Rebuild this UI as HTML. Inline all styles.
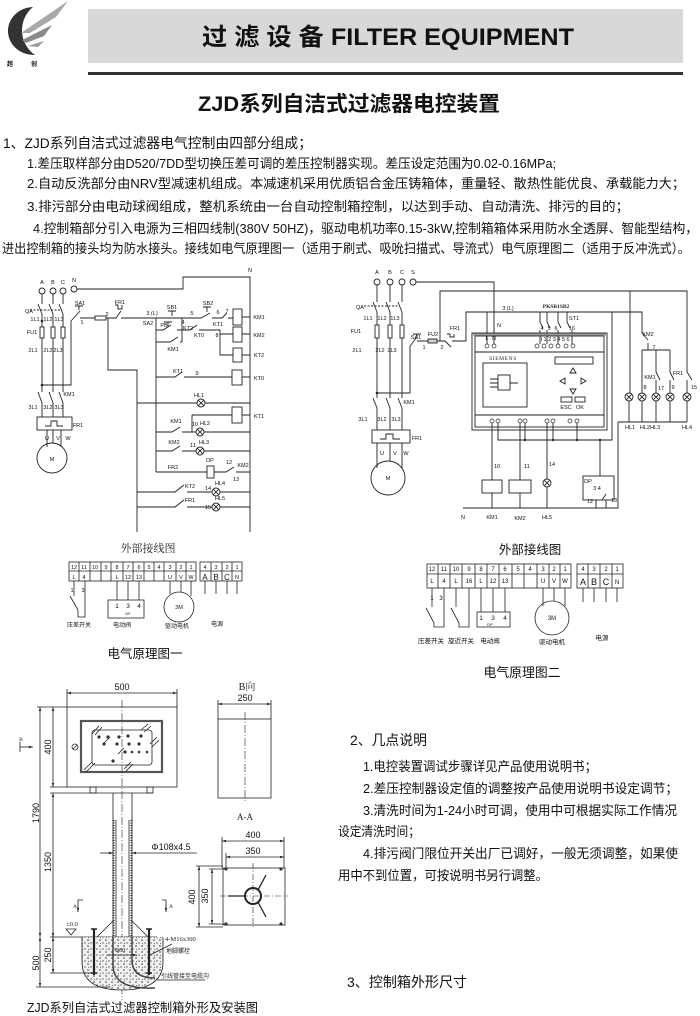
<!DOCTYPE html>
<html><head><meta charset="utf-8">
<style>
html,body{margin:0;padding:0;background:#fff;}
svg{display:block;}
text{font-family:"Liberation Sans","Noto Sans CJK SC",sans-serif;fill:#111;}
.t{font-family:"Liberation Serif","Noto Serif CJK SC",serif;font-size:5.5px;fill:#222;}
.u{font-family:"Liberation Serif","Noto Serif CJK SC",serif;font-size:7px;fill:#222;}
.d{font-family:"Liberation Sans",sans-serif;font-size:9px;fill:#222;}
.c{font-family:"Liberation Sans","Noto Sans CJK SC",sans-serif;font-size:6px;fill:#222;}
</style></head><body>
<svg width="700" height="1016" viewBox="0 0 700 1016" xmlns="http://www.w3.org/2000/svg">
<defs>
<marker id="ar" viewBox="0 0 10 10" refX="10" refY="5" markerWidth="5" markerHeight="5" orient="auto-start-reverse"><path d="M0,2 L10,5 L0,8z" fill="#222"/></marker>
<symbol id="lamp" viewBox="-5 -5 10 10" overflow="visible"><circle r="4" fill="#fff" stroke="#222" stroke-width="0.9"/><path d="M-2.8,-2.8 L2.8,2.8 M-2.8,2.8 L2.8,-2.8" stroke="#222" stroke-width="0.9"/></symbol>
<pattern id="conc" width="6" height="6" patternUnits="userSpaceOnUse"><rect width="6" height="6" fill="#f0f0f0"/><circle cx="1" cy="1" r="0.7" fill="#555"/><circle cx="4" cy="4" r="0.9" fill="#666"/><circle cx="4.5" cy="1.5" r="0.5" fill="#444"/></pattern>
</defs>
<rect width="700" height="1016" fill="#fff"/>

<!-- ===== Header ===== -->
<path d="M33,7 A26,24 0 1,0 35,55 A30,30 0 0,1 33,7 Z" fill="#333"/>
<path d="M21,33 L68,1 L56,17 L30,33 Z" fill="#a8a8a8"/>
<path d="M22,40 L52,25 L44,36 L26,43 Z" fill="#8a8a8a"/>
<path d="M28,46 L44,41 L38,47 Z" fill="#999"/>
<text x="7" y="66" font-size="6" font-weight="bold">超</text>
<text x="31" y="66" font-size="6" font-weight="bold">创</text>
<rect x="88" y="9" width="595" height="54" fill="#d8d8d8"/>
<text x="388" y="45" font-size="24" font-weight="bold" text-anchor="middle" textLength="372" lengthAdjust="spacingAndGlyphs">过 滤 设 备 FILTER EQUIPMENT</text>
<rect x="88" y="72" width="595" height="3" fill="#333"/>

<text x="349" y="111" font-size="21" font-weight="bold" text-anchor="middle" textLength="302" lengthAdjust="spacingAndGlyphs">ZJD系列自洁式过滤器电控装置</text>

<!-- ===== Section 1 ===== -->
<text x="3" y="148" font-size="14" textLength="309" lengthAdjust="spacingAndGlyphs">1、ZJD系列自洁式过滤器电气控制由四部分组成；</text>
<text x="27" y="168" font-size="13" textLength="529" lengthAdjust="spacingAndGlyphs">1.差压取样部分由D520/7DD型切换压差可调的差压控制器实现。差压设定范围为0.02-0.16MPa;</text>
<text x="27" y="188" font-size="13" textLength="658" lengthAdjust="spacingAndGlyphs">2.自动反洗部分由NRV型减速机组成。本减速机采用优质铝合金压铸箱体，重量轻、散热性能优良、承载能力大；</text>
<text x="27" y="211" font-size="13" textLength="602" lengthAdjust="spacingAndGlyphs">3.排污部分由电动球阀组成，整机系统由一台自动控制箱控制，以达到手动、自动清洗、排污的目的；</text>
<text x="33" y="233" font-size="13" textLength="665" lengthAdjust="spacingAndGlyphs">4.控制箱部分引入电源为三相四线制(380V    50HZ)，驱动电机功率0.15-3kW,控制箱箱体采用防水全透屏、智能型结构，</text>
<text x="2" y="253" font-size="13" textLength="688" lengthAdjust="spacingAndGlyphs">进出控制箱的接头均为防水接头。接线如电气原理图一（适用于刷式、吸吮扫描式、导流式）电气原理图二（适用于反冲洗式）。</text>

<!-- ===== Left circuit ===== -->
<g stroke="#222" stroke-width="0.9" fill="none">
<circle cx="42" cy="291" r="3"/><circle cx="53" cy="291" r="3"/><circle cx="63" cy="291" r="3"/><circle cx="74" cy="289" r="3"/>
<path d="M77,289 H183 V277 H250 V532"/>
<path d="M42,294 V304 M53,294 V304 M63,294 V304"/>
<path d="M38,304 L42,314 M49,304 L53,314 M59,304 L63,314"/>
<path d="M30,310 H62" stroke-dasharray="2,1.5"/>
<path d="M42,314 V392 M53,314 V392 M63,314 V392"/>
<rect x="40" y="327" width="4" height="11" fill="#fff"/><rect x="51" y="327" width="4" height="11" fill="#fff"/><rect x="61" y="327" width="4" height="11" fill="#fff"/>
<path d="M42,385 H71 V321"/>
<path d="M38,392 L42,403 M49,392 L53,403 M59,392 L63,403"/>
<path d="M42,403 V417 M53,403 V417 M63,403 V417"/>
<rect x="37" y="417" width="35" height="13"/>
<path d="M45,426 H51 V421 H57 V426 H63"/>
<path d="M47,430 V447 M53,430 V443 M61,430 V447"/>
<circle cx="52" cy="458" r="15"/>
<path d="M71,321 L80,311 M75,306 H83 M79,306 V310"/>
<path d="M80,318 H95 M106,318 H113"/>
<rect x="95" y="316" width="11" height="4"/>
<path d="M113,318 H116 L121,311 M115,305 H118 V309 H122 V305 M121,318 H165"/>
<path d="M165,318 H178 M168,311 H176 M172,311 V316"/>
<path d="M178,318 H201 L210,313 M203,307 H211 M207,307 V312 M212,318 H222 L227,313 M228,318 H233"/>
<path d="M108,318 V370 H137 V532"/>
<path d="M156,318 V472"/>
<path d="M156,330 H163 L171,325 M164,322 H172 M168,322 V326 M177,330 H190 L197,325 M199,330 H220 V355 H233 M220,334 H233"/>
<path d="M182,318 V342 M156,342 H170 L178,337 M180,342 H182"/>
<rect x="233" y="309" width="9" height="16" fill="#fff"/>
<rect x="233" y="327" width="9" height="15" fill="#fff"/>
<rect x="233" y="348" width="9" height="14" fill="#fff"/>
<rect x="232" y="370" width="10" height="15" fill="#fff"/>
<rect x="232" y="407" width="10" height="16" fill="#fff"/>
<path d="M242,317 H250 M242,334 H250 M242,355 H250 M242,377 H250 M242,415 H250"/>
<path d="M156,377 H175 L182,372 M184,377 H232"/>
<path d="M137,403 H250"/>
<path d="M192,415 H232 M192,415 V432"/>
<path d="M156,432 H172 L180,427 M182,432 H250"/>
<path d="M156,451 H172 L180,446 M182,451 H250"/>
<path d="M156,472 H207 M214,472 H226 L234,467 M236,472 H250"/>
<rect x="207" y="466" width="7" height="12" fill="#fff"/>
<path d="M137,492 H175 L184,485 M187,492 H250"/>
<path d="M137,507 H175 L184,500 M187,507 H250"/>
</g>
<circle cx="42" cy="385" r="1.3" fill="#222"/><circle cx="42" cy="321" r="1.3" fill="#222"/>
<use href="#lamp" x="201" y="403" width="10" height="10" transform="translate(-5,-5)"/>
<use href="#lamp" x="200" y="432" width="10" height="10" transform="translate(-5,-5)"/>
<use href="#lamp" x="200" y="451" width="10" height="10" transform="translate(-5,-5)"/>
<use href="#lamp" x="216" y="492" width="10" height="10" transform="translate(-5,-5)"/>
<use href="#lamp" x="216" y="507" width="10" height="10" transform="translate(-5,-5)"/>
<g class="t" text-anchor="middle">
<text x="42" y="284">A</text><text x="53" y="284">B</text><text x="63" y="284">C</text><text x="74" y="282">N</text>
<text x="250" y="272">N</text>
<text x="29" y="313">QA</text>
<text x="35" y="321">1L1</text><text x="48" y="321">1L2</text><text x="59" y="321">1L3</text>
<text x="32" y="334">FU1</text>
<text x="33" y="352">2L1</text><text x="48" y="352">2L2</text><text x="58" y="352">2L3</text>
<text x="69" y="396">KM1</text>
<text x="33" y="409">3L1</text><text x="48" y="409">3L2</text><text x="59" y="409">3L3</text>
<text x="78" y="427">FR1</text>
<text x="47" y="440">U</text><text x="58" y="440">V</text><text x="68" y="440">W</text>
<text x="52" y="461">M</text>
<text x="80" y="305">SA1</text><text x="82" y="324">1</text><text x="107" y="316">2</text>
<text x="120" y="304">FR1</text>
<text x="152" y="315">3 (L)</text>
<text x="172" y="309">SB1</text><text x="192" y="315">5</text>
<text x="208" y="305">SB2</text><text x="218" y="314">6</text><text x="227" y="313">7</text>
<text x="218" y="326">KT1</text><text x="217" y="337">8</text>
<text x="148" y="325">SA2</text><text x="164" y="327">PB</text><text x="183" y="324">4</text>
<text x="188" y="330">KT2</text><text x="199" y="337">KT0</text>
<text x="173" y="351">KM1</text>
<text x="178" y="373">KT1</text><text x="197" y="375">9</text>
<text x="259" y="319">KM1</text><text x="259" y="337">KM2</text><text x="259" y="357">KT2</text><text x="259" y="380">KT0</text><text x="259" y="418">KT1</text>
<text x="199" y="397">HL1</text>
<text x="176" y="423">KM1</text><text x="195" y="426">10</text><text x="205" y="425">HL2</text>
<text x="174" y="444">KM2</text><text x="193" y="447">11</text><text x="204" y="444">HL3</text>
<text x="173" y="469">FR2</text><text x="210" y="462">DP</text><text x="229" y="464">12</text><text x="243" y="467">KM2</text><text x="236" y="481">13</text>
<text x="190" y="488">KT2</text><text x="208" y="490">14</text><text x="220" y="485">HL4</text>
<text x="190" y="502">FR1</text><text x="208" y="509">15</text><text x="220" y="500">HL5</text>
</g>

<!-- ===== Right circuit ===== -->
<g stroke="#222" stroke-width="0.9" fill="none">
<circle cx="377" cy="282" r="3"/><circle cx="390" cy="282" r="3"/><circle cx="402" cy="282" r="3"/><circle cx="413" cy="282" r="3"/>
<path d="M416,282 H494 V344"/>
<path d="M377,285 V302 M390,285 V302 M402,285 V302"/>
<path d="M373,302 L377,312 M386,302 L390,312 M398,302 L402,312"/>
<path d="M364,306 H399" stroke-dasharray="2,1.5"/>
<path d="M377,312 V398 M390,312 V398 M402,312 V398"/>
<rect x="375" y="325" width="4" height="13" fill="#fff"/><rect x="388" y="325" width="4" height="13" fill="#fff"/><rect x="400" y="325" width="4" height="13" fill="#fff"/>
<path d="M377,393 H410 V346 L417,337 M413,334 H421 M417,334 V338"/>
<!-- KM1 main contacts -->
<path d="M373,398 L377,408 M386,398 L390,408 M398,398 L402,408"/>
<path d="M377,408 V430 M390,408 V430 M402,408 V430"/>
<rect x="372" y="430" width="38" height="13"/>
<path d="M380,439 H386 V434 H393 V439 H400"/>
<path d="M377,443 V468 M390,443 V461 M402,443 V468"/>
<circle cx="388" cy="478" r="17"/>
<path d="M417,341 H428 M437,341 H445"/>
<rect x="428" y="339" width="9" height="4" fill="#d0d0d0"/>
<path d="M445,341 L451,347 M447,334 H450 V337 H454 V334 M452,341 H466 V312 H642 V333 L648,340 M648,343 V350"/>
<path d="M440,341 V291 H687 V372 L692,380 M687,380 V393"/>
<path d="M630,291 V393"/>
<path d="M642,350 H670 M642,350 V393 M656,350 V372 L660,380 M656,380 V393 M670,350 V372 L674,380 M670,380 V393"/>
<path d="M629,401 V422 M642,401 V422 M656,401 V422 M670,401 V422 M687,401 V422 M618,422 H687 M618,422 V508 H463"/>
<path d="M487,312 V344"/>
<path d="M540,312 V322 L543,328 M540,330 V344 M547,312 V322 L550,328 M547,330 V344 M558,312 V322 L561,328 M558,330 V344 M567,312 V322 L570,328 M572,330 V344"/>
<rect x="472" y="333" width="135" height="97"/>
<rect x="475" y="336" width="129" height="91"/>
<path d="M472,334.5 H607" stroke="#999" stroke-width="2"/>
<path d="M475,352 H604 M475,415 H604"/>
<rect x="555" y="357" width="38" height="7"/>
<rect x="483" y="363" width="44" height="44"/>
<rect x="498" y="375" width="12" height="15"/>
<path d="M490,379 H498 M490,383 H498 M490,387 H498 M510,383 H518"/>
<path d="M573,368 L570,373 H576 Z M573,394 L570,389 H576 Z M560,381 L565,378 V384 Z M586,381 L581,378 V384 Z"/>
<rect x="561" y="397" width="11" height="5"/><rect x="575" y="397" width="10" height="5"/>
<path d="M498,423 V440 H612 V312 M525,423 V440 M553,423 V440 M577,423 V440 M600,440 V476"/>
<path d="M492,423 V480 M520,423 V480 M547,423 V479"/>
<rect x="482" y="480" width="20" height="13" fill="#fff"/>
<rect x="509" y="480" width="22" height="13" fill="#fff"/>
<path d="M492,493 V508 M520,493 V508 M547,487 V508"/>
<rect x="583" y="476" width="31" height="24"/>
<path d="M596,500 V508 M602,500 L606,494 M606,500 V508 H618"/>
</g>
<g fill="#fff" stroke="#222" stroke-width="0.7">
<circle cx="487" cy="346" r="2"/><circle cx="494" cy="346" r="2"/>
<circle cx="537" cy="346" r="2"/><circle cx="544" cy="346" r="2"/><circle cx="551" cy="346" r="2"/><circle cx="558" cy="346" r="2"/><circle cx="566" cy="346" r="2"/><circle cx="573" cy="346" r="2"/>
<circle cx="492" cy="421" r="2"/><circle cx="498" cy="421" r="2"/><circle cx="520" cy="421" r="2"/><circle cx="525" cy="421" r="2"/><circle cx="547" cy="421" r="2"/><circle cx="553" cy="421" r="2"/><circle cx="570" cy="421" r="2"/><circle cx="577" cy="421" r="2"/>
</g>
<circle cx="377" cy="393" r="1.3" fill="#222"/>
<circle cx="525" cy="440" r="1.2" fill="#222"/><circle cx="553" cy="440" r="1.2" fill="#222"/><circle cx="577" cy="440" r="1.2" fill="#222"/><circle cx="600" cy="440" r="1.2" fill="#222"/>
<use href="#lamp" x="629" y="397" width="10" height="10" transform="translate(-5,-5)"/>
<use href="#lamp" x="642" y="397" width="10" height="10" transform="translate(-5,-5)"/>
<use href="#lamp" x="656" y="397" width="10" height="10" transform="translate(-5,-5)"/>
<use href="#lamp" x="670" y="397" width="10" height="10" transform="translate(-5,-5)"/>
<use href="#lamp" x="687" y="397" width="10" height="10" transform="translate(-5,-5)"/>
<use href="#lamp" x="547" y="483" width="10" height="10" transform="translate(-5,-5)"/>
<g class="t" text-anchor="middle">
<text x="377" y="274">A</text><text x="390" y="274">B</text><text x="402" y="274">C</text><text x="413" y="274">S</text>
<text x="360" y="309">QA</text>
<text x="368" y="320">1L1</text><text x="382" y="320">1L2</text><text x="395" y="320">1L3</text>
<text x="356" y="333">FU1</text>
<text x="357" y="352">2L1</text><text x="380" y="352">2L2</text><text x="392" y="352">2L3</text>
<text x="409" y="404">KM1</text>
<text x="363" y="421">3L1</text><text x="382" y="421">3L2</text><text x="396" y="421">3L3</text>
<text x="416" y="339">SA1</text>
<text x="417" y="440">FR1</text>
<text x="382" y="455">U</text><text x="395" y="455">V</text><text x="406" y="455">W</text>
<text x="388" y="480">M</text>
<text x="433" y="336">FU2</text><text x="424" y="349">1</text><text x="442" y="349">2</text>
<text x="455" y="330">FR1</text>
<text x="508" y="310">3 (L)</text>
<text x="499" y="327">N</text>
<text x="542" y="330">4</text><text x="549" y="330">5</text><text x="556" y="330">6</text><text x="572" y="330">16</text>
<text x="574" y="320">ST1</text>
<text x="487" y="340">L</text><text x="494" y="340">N</text>
<text x="555" y="341">I 1 2 3 4 5 6</text>
<text x="566" y="409">ESC</text><text x="580" y="409">OK</text>
<text x="497" y="468">10</text><text x="527" y="468">11</text><text x="552" y="466">14</text>
<text x="588" y="483">DP</text><text x="597" y="490">3  4</text>
<text x="590" y="503">12</text><text x="614" y="502">13</text>
<text x="463" y="519">N</text><text x="492" y="519">KM1</text><text x="520" y="520">KM2</text><text x="547" y="519">HL5</text>
<text x="648" y="336">KM2</text><text x="654" y="349">7</text><text x="650" y="379">KM1</text><text x="678" y="375">FR1</text>
<text x="645" y="389">8</text><text x="661" y="390">17</text><text x="673" y="389">9</text><text x="694" y="389">15</text>
<text x="630" y="429">HL1</text><text x="650" y="429">HL2HL3</text><text x="687" y="429">HL4</text>
</g>
<text x="556" y="308" class="t" font-weight="bold" text-anchor="middle" font-size="6.5">PKSB1SB2</text>
<text x="503" y="360" class="t" text-anchor="middle" font-size="6.5" letter-spacing="0.6">SIEMENS</text>

<!-- ===== External wiring 1 ===== -->
<text x="148" y="552" class="u" text-anchor="middle" style="font-size:11px">外部接线图</text>
<g stroke="#222" stroke-width="0.8" fill="none">
<rect x="69" y="562" width="127" height="19"/><path d="M69,571 H196"/>
<path d="M79,562 V581 M90,562 V581 M101,562 V581 M111,562 V581 M123,562 V581 M133,562 V581 M144,562 V581 M154,562 V581 M164,562 V581 M176,562 V581 M186,562 V581"/>
<rect x="200" y="562" width="42" height="19"/><path d="M200,571 H242 M211,562 V581 M222,562 V581 M232,562 V581"/>
<path d="M74,581 V596 M70,596 L78,610 M78,610 V617 H85 V581"/>
<path d="M117,581 V600 M128,581 V600 M139,581 V600"/>
<rect x="108" y="600" width="36" height="18"/>
<path d="M170,581 V594 M181,581 V592 M191,581 V596"/>
<circle cx="179" cy="607" r="15"/>
<path d="M205,581 V594 M216,581 V594 M227,581 V594 M237,581 V594"/>
</g>
<g class="t" text-anchor="middle">
<text x="74" y="569">12</text><text x="84" y="569">11</text><text x="95" y="569">10</text><text x="106" y="569">9</text><text x="117" y="569">8</text><text x="128" y="569">7</text><text x="139" y="569">6</text><text x="149" y="569">5</text><text x="159" y="569">4</text><text x="170" y="569">3</text><text x="181" y="569">2</text><text x="191" y="569">1</text>
<text x="74" y="579">L</text><text x="84" y="579">4</text><text x="117" y="579">L</text><text x="128" y="579">12</text><text x="139" y="579">13</text><text x="170" y="579">U</text><text x="181" y="579">V</text><text x="191" y="579">W</text>
<text x="205" y="569">4</text><text x="216" y="569">3</text><text x="227" y="569">2</text><text x="237" y="569">1</text>
<text x="237" y="579">N</text>
<text x="72" y="592">1</text><text x="83" y="592">3</text>
<text x="117" y="608" font-size="6.5">1</text><text x="128" y="608" font-size="6.5">3</text><text x="139" y="608" font-size="6.5">4</text>
<text x="128" y="615" font-size="4">DF</text>
<text x="179" y="609">3M</text>
</g>
<g class="u" text-anchor="middle" style="font-size:8px"><text x="205" y="580">A</text><text x="216" y="580">B</text><text x="227" y="580">C</text></g>
<g class="c" text-anchor="middle">
<text x="79" y="627">压差开关</text><text x="122" y="627">电动阀</text><text x="177" y="628">驱动电机</text><text x="217" y="626">电源</text>
</g>
<text x="145" y="658" font-size="12.5" text-anchor="middle" textLength="75" lengthAdjust="spacingAndGlyphs">电气原理图一</text>

<!-- ===== External wiring 2 ===== -->
<text x="530" y="554" font-size="12.5" text-anchor="middle">外部接线图</text>
<g stroke="#222" stroke-width="0.8" fill="none">
<rect x="427" y="564" width="144" height="24"/><path d="M427,574 H571"/>
<path d="M438,564 V588 M450,564 V588 M462,564 V588 M475,564 V588 M487,564 V588 M499,564 V588 M512,564 V588 M524,564 V588 M537,564 V588 M549,564 V588 M560,564 V588"/>
<rect x="577" y="564" width="46" height="24"/><path d="M577,574 H623 M588,564 V588 M600,564 V588 M612,564 V588"/>
<path d="M432,588 V607 M426,608 L434,623 M434,623 V627 H444 V588"/>
<path d="M456,588 V607 M451,608 L459,623 M459,623 V627 H469 V588"/>
<path d="M481,588 V612 M493,588 V612 M505,588 V612"/>
<rect x="477" y="612" width="33" height="15"/>
<path d="M543,588 V606 M554,588 V601 M565,588 V606"/>
<circle cx="552" cy="618" r="17"/>
<path d="M583,588 V602 M594,588 V602 M606,588 V602 M617,588 V602"/>
</g>
<g class="t" text-anchor="middle" style="font-size:6px">
<text x="432" y="571">12</text><text x="444" y="571">11</text><text x="456" y="571">10</text><text x="469" y="571">9</text><text x="481" y="571">8</text><text x="493" y="571">7</text><text x="505" y="571">6</text><text x="518" y="571">5</text><text x="530" y="571">4</text><text x="543" y="571">3</text><text x="554" y="571">2</text><text x="565" y="571">1</text>
<text x="432" y="583">L</text><text x="444" y="583">4</text><text x="456" y="583">L</text><text x="469" y="583">16</text><text x="481" y="583">L</text><text x="493" y="583">12</text><text x="505" y="583">13</text><text x="543" y="583">U</text><text x="554" y="583">V</text><text x="565" y="583">W</text>
<text x="583" y="571">4</text><text x="594" y="571">3</text><text x="606" y="571">2</text><text x="617" y="571">1</text>
<text x="617" y="584">N</text>
<text x="432" y="600">1</text><text x="441" y="600">3</text>
<text x="481" y="620" style="font-size:6.5px">1</text><text x="493" y="620" style="font-size:6.5px">3</text><text x="505" y="620" style="font-size:6.5px">4</text>
<text x="490" y="626" style="font-size:4px">DP</text>
<text x="552" y="620">3M</text>
</g>
<g class="u" text-anchor="middle" style="font-size:9px"><text x="583" y="585">A</text><text x="594" y="585">B</text><text x="606" y="585">C</text></g>
<g class="c" text-anchor="middle" style="font-size:6.5px">
<text x="431" y="643">压差开关</text><text x="461" y="643">旋近开关</text><text x="490" y="643">电动阀</text><text x="552" y="644">驱动电机</text><text x="602" y="640">电源</text>
</g>
<text x="522" y="677" font-size="13" text-anchor="middle" textLength="77" lengthAdjust="spacingAndGlyphs">电气原理图二</text>

<!-- ===== Bottom-left drawing ===== -->
<g stroke="#222" stroke-width="0.8" fill="none">
<line x1="67" y1="693" x2="177" y2="693" marker-start="url(#ar)" marker-end="url(#ar)"/>
<path d="M67,689 V707 M177,689 V707"/>
<rect x="67" y="707" width="110" height="80"/>
<path d="M37,707 H67 M50,787 H67 M50,793 H153"/>
<rect x="81" y="721" width="81" height="51" stroke="#555" stroke-width="2.2"/>
<rect x="92" y="730" width="60" height="35" rx="3"/>
<path d="M92,734 L99,726 M95,735 L102,727 M141,730 L148,724 M144,732 L151,726 M150,744 L157,737 M152,747 L159,740 M84,770 L92,762 M86,772 L95,763 M124,769 L131,762 M126,771 L133,764 M104,743 L110,737 M118,754 L124,748"/>
<circle cx="75" cy="747" r="3"/><path d="M73,749 L77,745"/>
<rect x="90" y="787" width="6" height="6"/><rect x="147" y="787" width="6" height="6"/>
<path d="M113,793 V937 M132,793 V937 M116,820 V937 M129,820 V937"/>
<path d="M113.5,820 V937 M131.5,820 V937" stroke-dasharray="1,1.5" stroke-width="2"/>
<path d="M122,700 V1000" stroke-dasharray="8,2,1,2" stroke-width="0.6"/>
<line x1="53" y1="707" x2="53" y2="787" marker-start="url(#ar)" marker-end="url(#ar)"/>
<line x1="40" y1="707" x2="40" y2="937" marker-start="url(#ar)" marker-end="url(#ar)"/>
<line x1="53" y1="793" x2="53" y2="937" marker-start="url(#ar)" marker-end="url(#ar)"/>
<path d="M20,742 V752"/>
<line x1="20" y1="747" x2="33" y2="747" marker-end="url(#ar)"/>
<line x1="218" y1="704" x2="271" y2="704" marker-start="url(#ar)" marker-end="url(#ar)"/>
<path d="M218,700 V719 M271,700 V719"/>
<rect x="218" y="719" width="53" height="79"/>
<path d="M245,712 V802" stroke-dasharray="8,2,1,2" stroke-width="0.6"/>
<line x1="222" y1="841" x2="284" y2="841" marker-start="url(#ar)" marker-end="url(#ar)"/>
<line x1="226" y1="857" x2="284" y2="857" marker-start="url(#ar)" marker-end="url(#ar)"/>
<path d="M222,837 V868 M284,837 V868 M226,853 V869"/>
<rect x="223" y="868" width="62" height="57"/>
<path d="M220,896 H288 M253,863 V929" stroke-dasharray="6,2,1,2" stroke-width="0.6"/>
<circle cx="253" cy="896" r="8" stroke-width="2"/>
<path d="M258,890 L266,875 M258,902 L266,917 M245,896 L228,896" stroke-width="1.3"/>
<line x1="199" y1="866" x2="199" y2="927" marker-start="url(#ar)" marker-end="url(#ar)"/>
<line x1="212" y1="869" x2="212" y2="924" marker-start="url(#ar)" marker-end="url(#ar)"/>
<path d="M196,866 H223 M196,927 H223 M209,869 H226 M209,924 H226"/>
<line x1="100" y1="853" x2="113" y2="853" marker-end="url(#ar)"/>
<line x1="197" y1="853" x2="132" y2="853" marker-end="url(#ar)"/>
<path d="M83,900 H78 V912 M162,900 H166 V912"/>
<line x1="78" y1="905" x2="78" y2="912" marker-end="url(#ar)"/>
<line x1="166" y1="905" x2="166" y2="912" marker-end="url(#ar)"/>
<path d="M66,929 H76 L71,935 Z M50,937 H157"/>
<path d="M82,937 V962 Q82,990 122,990 Q163,990 163,962 V937" fill="url(#conc)"/>
<path d="M97,937 L113,921 M132,921 L148,937"/>
<path d="M113,937 V965 Q113,990 155,988 M132,937 V960 Q132,978 155,978" stroke="#444" stroke-width="1.5" fill="none"/>
<path d="M94,929 V975 M149,929 V975" stroke-width="2.2"/>
<path d="M91,929 H97 M146,929 H152 M91,973 H97 M146,973 H152" stroke-width="1.5"/>
<line x1="107" y1="955" x2="137" y2="955" marker-end="url(#ar)"/>
<path d="M150,955 L172,944 M157,980 H205"/>
<path d="M36,987 H110 M50,973 H94"/>
<line x1="40" y1="937" x2="40" y2="987" marker-start="url(#ar)" marker-end="url(#ar)"/>
<line x1="53" y1="937" x2="53" y2="973" marker-start="url(#ar)" marker-end="url(#ar)"/>
</g>
<g fill="#333">
<circle cx="99" cy="737" r="1.6"/><circle cx="108" cy="737" r="1.6"/><circle cx="119" cy="737" r="1.6"/><circle cx="128" cy="736" r="1.6"/><circle cx="141" cy="736" r="1.6"/>
<circle cx="104" cy="744" r="1.6"/><circle cx="117" cy="744" r="1.6"/><circle cx="129" cy="744" r="1.6"/><circle cx="139" cy="744" r="1.6"/>
<circle cx="125" cy="752" r="1.6"/><circle cx="132" cy="752" r="1.3"/><circle cx="139" cy="752" r="1.3"/><circle cx="147" cy="752" r="1.3"/><circle cx="113" cy="761" r="1.6"/>
<circle cx="226" cy="869" r="1.6"/><circle cx="281" cy="869" r="1.6"/><circle cx="226" cy="924" r="1.6"/><circle cx="281" cy="924" r="1.6"/>
</g>
<g class="d" text-anchor="middle">
<text x="122" y="690">500</text>
<text transform="translate(51,747) rotate(-90)">400</text>
<text transform="translate(39,813) rotate(-90)">1790</text>
<text transform="translate(51,862) rotate(-90)">1350</text>
<text transform="translate(39,963) rotate(-90)">500</text>
<text transform="translate(51,955) rotate(-90)">250</text>
<text x="245" y="701">250</text>
<text x="253" y="838">400</text>
<text x="253" y="854">350</text>
<text transform="translate(195,897) rotate(-90)">400</text>
<text transform="translate(208,896) rotate(-90)">350</text>
<text x="171" y="850">Φ108x4.5</text>
</g>
<text x="21" y="741" class="t" text-anchor="middle">B</text>
<text x="247" y="690" class="u" text-anchor="middle" style="font-size:10px">B向</text>
<text x="245" y="820" class="u" text-anchor="middle" style="font-size:9px">A-A</text>
<text x="73" y="908" class="t">A</text><text x="169" y="908" class="t">A</text>
<text x="72" y="926" class="t" text-anchor="middle" style="font-size:6.5px">±0.0</text>
<text x="120" y="952" class="t" text-anchor="middle" style="font-size:6px">Φ80</text>
<text x="165" y="941" class="u" style="font-size:6.5px">4-M16x300</text>
<text x="166" y="953" class="c">地脚螺栓</text>
<text x="161" y="978" class="c">引线管接至电缆沟</text>
<text x="27" y="1012" font-size="12.5" textLength="231" lengthAdjust="spacingAndGlyphs">ZJD系列自洁式过滤器控制箱外形及安装图</text>

<!-- ===== Right text ===== -->
<text x="350" y="745" font-size="14" textLength="77" lengthAdjust="spacingAndGlyphs">2、几点说明</text>
<text x="363" y="771" font-size="13" textLength="234" lengthAdjust="spacingAndGlyphs">1.电控装置调试步骤详见产品使用说明书；</text>
<text x="363" y="793" font-size="13" textLength="315" lengthAdjust="spacingAndGlyphs">2.差压控制器设定值的调整按产品使用说明书设定调节；</text>
<text x="363" y="815" font-size="13" textLength="314" lengthAdjust="spacingAndGlyphs">3.清洗时间为1-24小时可调，使用中可根据实际工作情况</text>
<text x="338" y="836" font-size="13" textLength="82" lengthAdjust="spacingAndGlyphs">设定清洗时间；</text>
<text x="363" y="858" font-size="13" textLength="315" lengthAdjust="spacingAndGlyphs">4.排污阀门限位开关出厂已调好，一般无须调整，如果使</text>
<text x="338" y="880" font-size="13" textLength="210" lengthAdjust="spacingAndGlyphs">用中不到位置，可按说明书另行调整。</text>
<text x="347" y="987" font-size="14" textLength="120" lengthAdjust="spacingAndGlyphs">3、控制箱外形尺寸</text>
</svg>
</body></html>
